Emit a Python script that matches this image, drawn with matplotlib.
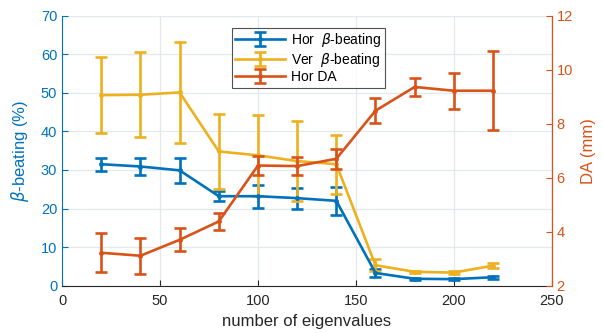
import matplotlib
matplotlib.use("Agg")
import matplotlib.pyplot as plt

plt.rcParams['font.family'] = ['Liberation Sans', 'DejaVu Sans']
plt.rcParams['mathtext.fontset'] = 'dejavusans'

# eigenvalue counts
n_eig = [20, 40, 60, 80, 100, 120, 140, 160, 180, 200, 220]

# horizontal beta-beating (%)
hor_beat = [31.5, 30.9, 29.9, 23.2, 23.2, 22.7, 22.0, 3.3, 1.8, 1.7, 2.2]
hor_beat_err = [1.7, 2.3, 3.2, 1.3, 3.0, 2.7, 3.7, 1.0, 0.3, 0.3, 0.4]

# vertical beta-beating (%)
ver_beat = [49.4, 49.5, 50.1, 34.8, 33.8, 32.3, 31.5, 5.3, 3.6, 3.4, 5.2]
ver_beat_err = [9.8, 11.0, 13.0, 9.7, 10.5, 10.3, 7.6, 1.5, 0.3, 0.3, 0.6]

# horizontal dynamic aperture (mm)
hor_da = [3.22, 3.11, 3.70, 4.38, 6.45, 6.43, 6.70, 8.48, 9.36, 9.22, 9.22]
hor_da_err = [0.73, 0.67, 0.43, 0.30, 0.36, 0.33, 0.36, 0.46, 0.34, 0.66, 1.47]

blue = '#0072BD'
orange = '#D95319'
yellow = '#EDB120'

fig = plt.figure(figsize=(6.03, 3.33), dpi=100)
ax = fig.add_axes([0.103, 0.142, 0.812, 0.811])
ax2 = ax.twinx()

kw = dict(lw=1.9, elinewidth=1.9, capsize=4, capthick=1.9, marker='.', ms=5)
l1 = ax.errorbar(n_eig, hor_beat, yerr=hor_beat_err, color=blue, label=r'Hor  $\beta$-beating', **kw)
l2 = ax.errorbar(n_eig, ver_beat, yerr=ver_beat_err, color=yellow, label=r'Ver  $\beta$-beating', **kw)
l3 = ax2.errorbar(n_eig, hor_da, yerr=hor_da_err, color=orange, label='Hor DA', **kw)

ax.set_xlim(0, 250)
ax.set_ylim(0, 70)
ax2.set_ylim(2, 12)
ax.set_xticks([0, 50, 100, 150, 200, 250])
ax.set_yticks(range(0, 71, 10))
ax2.set_yticks(range(2, 13, 2))

ax.grid(True, color='#e3e8ec', lw=0.9)
ax.set_axisbelow(True)

ax.set_xlabel('number of eigenvalues', fontsize=12, color='#262626', labelpad=4)
ax.set_ylabel(r'$\beta$-beating (%)', fontsize=12, color=blue, labelpad=7)
ax2.set_ylabel('DA (mm)', fontsize=12, color=orange, labelpad=6)

ax.tick_params(axis='x', direction='in', colors='#262626', labelsize=10.5, length=4, pad=6)
ax.tick_params(axis='y', direction='in', colors=blue, labelsize=10.5, length=4)
ax2.tick_params(axis='y', direction='in', colors=orange, labelsize=10.5, length=4)

for a in (ax, ax2):
    a.spines['top'].set_visible(False)
ax.spines['bottom'].set_color('#262626')
ax.spines['left'].set_color(blue)
ax2.spines['left'].set_visible(False)
ax2.spines['bottom'].set_visible(False)
ax2.spines['right'].set_color(orange)

leg = ax2.legend(handles=[l1, l2, l3], loc='upper left', bbox_to_anchor=(0.347, 0.955),
                 fontsize=10, frameon=True, fancybox=False, edgecolor='#262626',
                 borderpad=0.25, labelspacing=0.1, handlelength=3.6, handletextpad=0.4,
                 borderaxespad=0)
leg.get_frame().set_linewidth(0.8)

fig.savefig('out.png', dpi=100)
